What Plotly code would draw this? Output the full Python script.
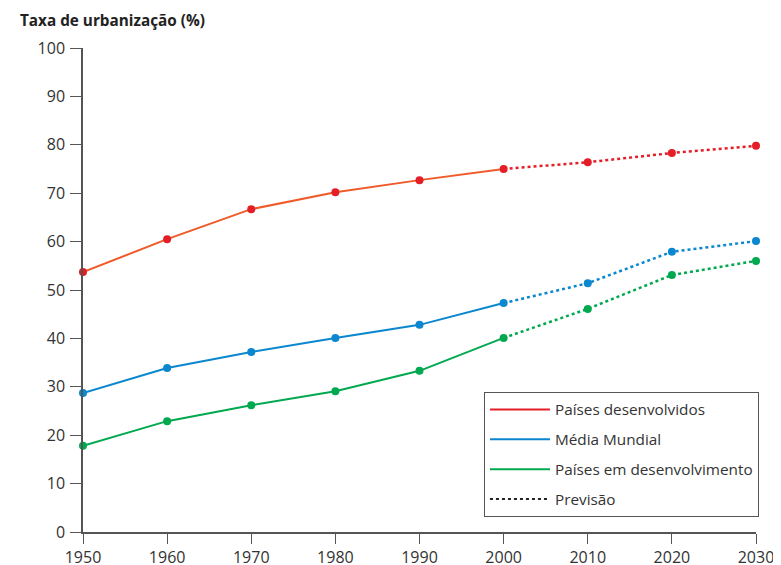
import plotly.graph_objects as go

years = [1950, 1960, 1970, 1980, 1990, 2000, 2010, 2020, 2030]
desenvolvidos = [53.7, 60.5, 66.7, 70.2, 72.7, 75.0, 76.4, 78.3, 79.8]
mundial = [28.7, 33.9, 37.2, 40.1, 42.8, 47.3, 51.4, 57.9, 60.1]
em_desenv = [17.8, 22.9, 26.2, 29.1, 33.3, 40.1, 46.1, 53.1, 56.0]
split_year = 2000
y_ticks = [0, 10, 20, 30, 40, 50, 60, 70, 80, 90, 100]
x_ticks = [1950, 1960, 1970, 1980, 1990, 2000, 2010, 2020, 2030]

series = [
    ("Países desenvolvidos", desenvolvidos, "#f05a28", "#e41e26"),
    ("Média Mundial", mundial, "#0a87cf", "#0a87cf"),
    ("Países em desenvolvimento", em_desenv, "#00a94f", "#00a94f"),
]

FONT = "Open Sans"
fig = go.Figure()
k = years.index(split_year)
for name, vals, lcol, mcol in series:
    fig.add_trace(go.Scatter(x=years[:k + 1], y=vals[:k + 1], mode="lines",
                             line=dict(color=lcol, width=2), showlegend=False,
                             hoverinfo="skip", cliponaxis=False))
    fig.add_trace(go.Scatter(x=years[k:], y=vals[k:], mode="lines",
                             line=dict(color=mcol, width=2.5, dash="dot"),
                             showlegend=False, hoverinfo="skip", cliponaxis=False))
    fig.add_trace(go.Scatter(x=years, y=vals, mode="markers",
                             marker=dict(color=mcol, size=8), showlegend=False,
                             cliponaxis=False))

legend_items = [
    ("Países desenvolvidos", "#e41e26", "solid"),
    ("Média Mundial", "#0a87cf", "solid"),
    ("Países em desenvolvimento", "#00a94f", "solid"),
    ("Previsão", "#222222", "dot"),
]
for i, (name, col, dash) in enumerate(legend_items):
    fig.add_trace(go.Scatter(x=[None], y=[None], mode="lines", name=name,
                             legendgroup=f"g{i}",
                             line=dict(color=col, width=2, dash=dash)))

fig.update_layout(
    width=773, height=557,
    margin=dict(l=75, r=25, t=40, b=33, autoexpand=False),
    paper_bgcolor="white", plot_bgcolor="white",
    font=dict(family=FONT, size=16, color="#333333"),
    showlegend=True,
    legend=dict(x=0.5958, y=0.2893, xanchor="left", yanchor="top",
                bordercolor="#555555", borderwidth=1, bgcolor="white",
                font=dict(family=FONT, size=15.3, color="#333333"),
                tracegroupgap=7, itemwidth=60),
    xaxis=dict(range=[1950, 2030], tickvals=x_ticks,
               ticks="outside", ticklen=10, ticklabeloverflow="allow",
               tickcolor="#555555", showline=True, linecolor="#555555", linewidth=1.5,
               showgrid=False, zeroline=False, automargin=False, ticklabelstandoff=0,
               tickfont=dict(size=16, color="#333333")),
    yaxis=dict(range=[0, 100], tickvals=y_ticks, ticks="outside", ticklen=11,
               tickcolor="#555555", showline=True, linecolor="#555555", linewidth=1.5,
               showgrid=False, zeroline=False, automargin=False, ticklabelstandoff=2,
               tickfont=dict(size=16, color="#333333")),
    annotations=[dict(text="<b>Taxa de urbanização (%)</b>", xref="paper", yref="paper",
                      x=-0.0967, y=1.058, xanchor="left", yanchor="middle", showarrow=False,
                      font=dict(family=FONT, size=15.3, color="#222222"))],
)

fig.write_html("out.html")
